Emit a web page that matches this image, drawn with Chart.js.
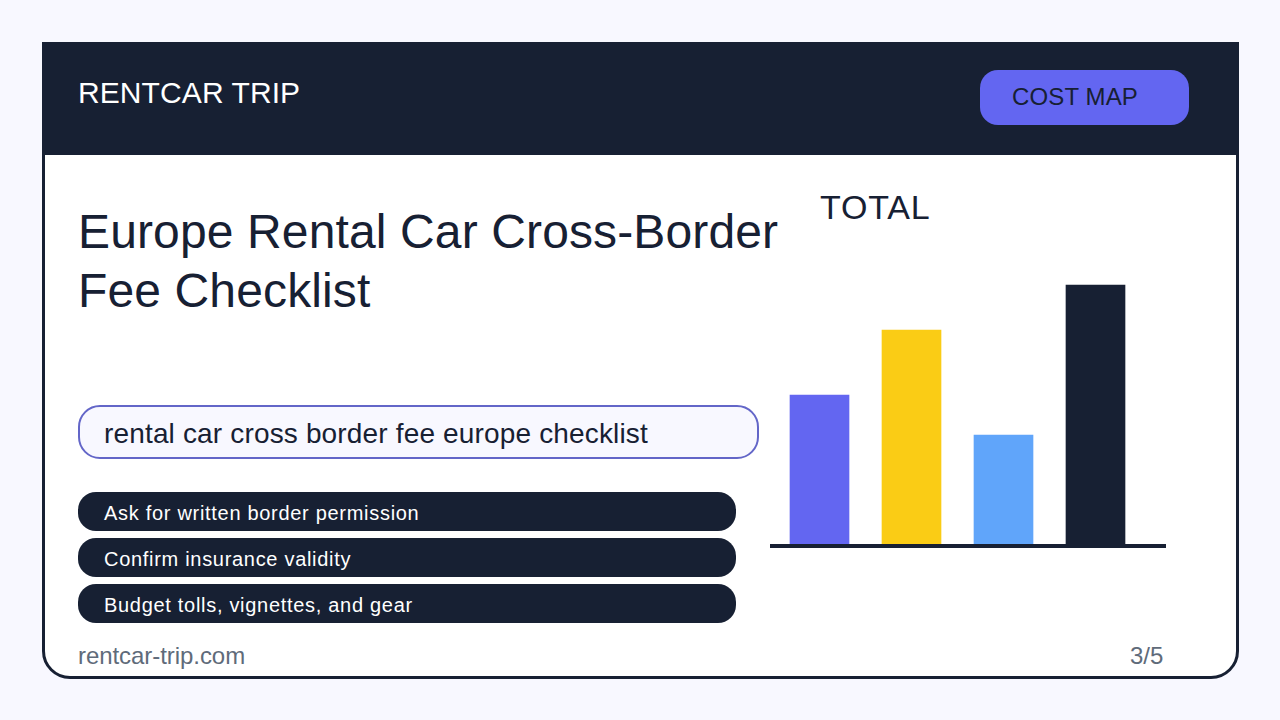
<!DOCTYPE html>
<html><head><meta charset="utf-8">
<script src="https://cdn.jsdelivr.net/npm/chart.js@4"></script>
<style>
html,body{margin:0;padding:0;width:1280px;height:720px;background:#f8f8ff;overflow:hidden;font-family:"Liberation Sans",Arial,sans-serif}
.a{position:absolute;white-space:nowrap;box-sizing:border-box}
.pill{left:78px;width:658px;height:39px;background:#172033;border-radius:18px;color:#fff;font-size:20px;line-height:42px;padding-left:26px;letter-spacing:.7px}
</style></head><body>
<div class="a" style="left:42px;top:42px;width:1197px;height:637px;background:#fff;border:3px solid #172033;border-radius:0 0 28px 28px"></div>
<div class="a" style="left:42px;top:42px;width:1197px;height:113px;background:#172033"></div>
<div class="a" style="left:78px;top:74px;color:#fff;font-size:30px;line-height:38px;letter-spacing:.09px">RENTCAR TRIP</div>
<div class="a" style="left:980px;top:70px;width:209px;height:55px;background:#6366f1;border-radius:18px;color:#172033;font-size:24px;line-height:54px;padding-left:32px;letter-spacing:.13px">COST MAP</div>
<div class="a" style="left:78px;top:202px;color:#172033;font-size:48px;line-height:59px;letter-spacing:.13px">Europe Rental Car Cross-Border<br>Fee Checklist</div>
<div class="a" style="left:820px;top:186px;color:#172033;font-size:34px;line-height:42px;letter-spacing:.8px">TOTAL</div>
<div class="a" style="left:78px;top:405px;width:681px;height:54px;background:#f8f8ff;border:2px solid #6366c8;border-radius:22px;color:#172033;font-size:28px;line-height:54px;padding-left:24px;letter-spacing:.16px">rental car cross border fee europe checklist</div>
<div class="a pill" style="top:492px">Ask for written border permission</div>
<div class="a pill" style="top:538px">Confirm insurance validity</div>
<div class="a pill" style="top:584px">Budget tolls, vignettes, and gear</div>
<div class="a" style="left:78px;top:641px;color:#5f6b7a;font-size:24px;line-height:30px;letter-spacing:-.06px">rentcar-trip.com</div>
<div class="a" style="left:1130px;top:641px;color:#5f6b7a;font-size:24px;line-height:30px">3/5</div>
<canvas id="c" class="a" width="396" height="278" style="left:770px;top:270px;width:396px;height:278px"></canvas>
<script>
const categories = ["1", "2", "3", "4"];
const values = [149, 214, 109, 259];
const barColors = ["#6366f1", "#facc15", "#60a5fa", "#172033"];
const baseline = {
  id: "baseline",
  afterDatasetsDraw(chart) {
    const ctx = chart.ctx, y = chart.scales.y.getPixelForValue(0) + 2;
    ctx.save();
    ctx.strokeStyle = "#172033";
    ctx.lineWidth = 4;
    ctx.beginPath();
    ctx.moveTo(0, y);
    ctx.lineTo(chart.width, y);
    ctx.stroke();
    ctx.restore();
  }
};
new Chart(document.getElementById("c"), {
  type: "bar",
  data: { labels: categories, datasets: [{ data: values, backgroundColor: barColors, borderWidth: 0, barThickness: 59 }] },
  options: {
    responsive: false, animation: false, devicePixelRatio: 1,
    layout: { padding: { left: 3.5, right: 24.5, top: 4, bottom: 4 } },
    plugins: { legend: { display: false }, tooltip: { enabled: false }, title: { display: false } },
    scales: {
      x: { display: false, offset: true },
      y: { display: false, min: 0, max: 270 }
    }
  },
  plugins: [baseline]
});
</script>
</body></html>
